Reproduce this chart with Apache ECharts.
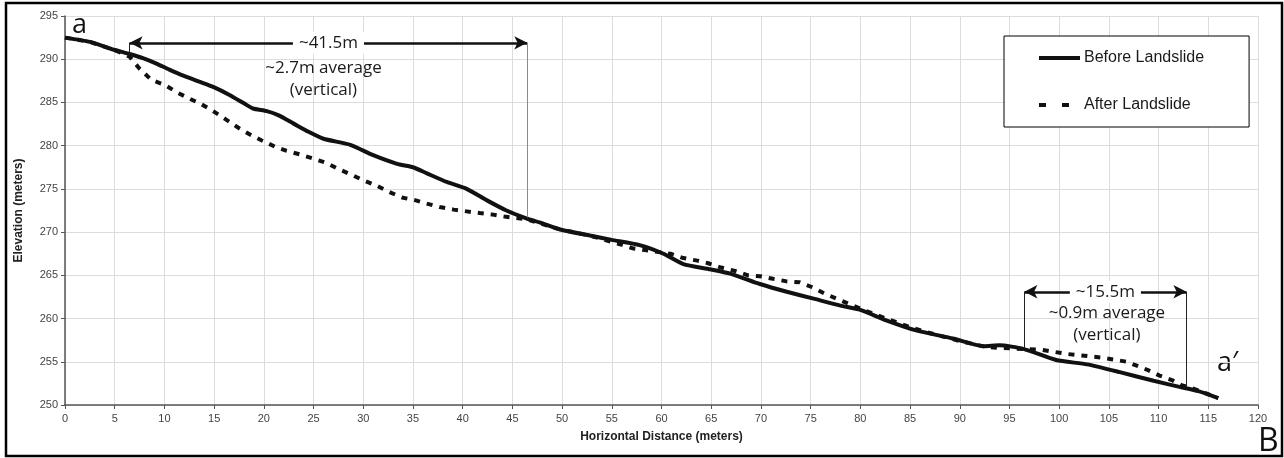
<!DOCTYPE html>
<html>
<head>
<meta charset="utf-8">
<title>Landslide profile a - a'</title>
<script src="https://cdn.jsdelivr.net/npm/echarts@6/dist/echarts.min.js"></script>
<style>
    html, body { margin: 0; padding: 0; background: #fff; }
    #chart { width: 1284px; height: 458px; }
</style>
</head>
<body>
<div id="chart"></div>
<script>
// profile before the slide (horizontal distance, elevation)
const beforeDist = [0, 2.5, 4.9, 6.5, 7.9, 9.2, 10.5, 11.9, 13.5, 14.9, 16.5, 18.0, 18.9, 20.3, 21.5, 23.0, 24.5, 26.0,
    28.7, 31.0, 33.4, 35.0, 36.4, 38.4, 40.4, 42.4, 44.4, 46.4, 47.8, 49.8, 52.8, 55.0, 57.8, 60.2, 62.2, 64.9, 66.9,
    69.9, 72.6, 75.3, 78.0, 80.0, 82.6, 85.7, 89.3, 92.4, 94.0, 96.4, 99.7, 102.8, 106.1, 109.5, 112.1, 114.0, 116.0];
const beforeElev = [292.5, 292.0, 291.1, 290.6, 290.1, 289.5, 288.8, 288.1, 287.4, 286.8, 285.9, 284.9, 284.3, 284.0, 283.5, 282.55, 281.6, 280.8,
    280.1, 278.9, 277.9, 277.5, 276.8, 275.8, 275.0, 273.7, 272.5, 271.6, 271.1, 270.3, 269.6, 269.1, 268.5, 267.5, 266.3, 265.7, 265.2,
    264.0, 263.1, 262.3, 261.5, 261.0, 259.8, 258.6, 257.7, 256.8, 256.9, 256.5, 255.2, 254.7, 253.8, 252.8, 252.1, 251.6, 250.8];

// profile after the slide
const afterDist = [0, 2.5, 4.9, 6.5, 7.5, 8.7, 10.1, 11.2, 12.6, 13.7, 14.9, 16.1, 17.4, 18.6, 19.8, 21.1, 22.3, 23.6, 25.0,
    26.3, 27.5, 28.8, 30.0, 31.3, 32.5, 33.9, 35.2, 36.4, 37.7, 39.1, 40.4, 41.7, 42.9, 44.2, 46.4, 47.8, 49.8, 52.8,
    55.8, 57.2, 58.5, 60.9, 62.2, 63.6, 64.7, 66.0, 67.4, 68.7, 69.9, 71.2, 72.6, 73.9, 75.1, 76.4, 77.6, 80.3, 82.6,
    85.0, 87.7, 90.0, 92.7, 94.2, 98.1, 100.8, 104.2, 106.8, 108.8, 110.1, 111.4, 112.3, 114.0, 116.0];
const afterElev = [292.5, 292.0, 291.1, 290.3, 288.9, 287.6, 287.0, 286.2, 285.4, 284.8, 284.0, 283.1, 282.1, 281.3, 280.6, 279.9, 279.4, 279.0, 278.5,
    278.0, 277.3, 276.65, 276.0, 275.4, 274.7, 274.0, 273.7, 273.3, 272.9, 272.6, 272.4, 272.2, 272.05, 271.8, 271.5, 271.0, 270.3, 269.6,
    268.6, 268.1, 267.9, 267.5, 267.0, 266.7, 266.4, 265.9, 265.5, 265.0, 264.9, 264.6, 264.3, 264.2, 263.65, 262.9, 262.3, 261.0, 260.0,
    259.0, 258.1, 257.4, 256.7, 256.6, 256.4, 255.9, 255.5, 255.0, 254.1, 253.4, 252.85, 252.3, 251.7, 250.8];

// annotation spans: [start, end, arrow elevation, elev at start, elev at end]
const upperSpan = [6.5, 46.5, 291.9, 290.5, 271.7];
const lowerSpan = [96.5, 112.8, 263.1, 256.6, 252.1];

const seriesNames = ['Before Landslide', 'After Landslide'];

const annoFont = '"Open Sans", "Noto Sans", sans-serif';
const axisFont = '"Liberation Sans", Arial, sans-serif';

const zip = (xs, ys) => xs.map((x, i) => [x, ys[i]]);

// double arrow + the two drop lines
function spanLines(span, endColor) {
    const [x0, x1, yArrow, y0, y1] = span;
    return [
        [{ coord: [x0, yArrow], symbol: 'arrow', symbolSize: [10, 13] },
         { coord: [x1, yArrow], symbol: 'arrow', symbolSize: [10, 13] }],
        [{ coord: [x0, yArrow], symbol: 'none', lineStyle: { width: 1, color: '#222' } },
         { coord: [x0, y0], symbol: 'none' }],
        [{ coord: [x1, yArrow], symbol: 'none', lineStyle: { width: 1, color: endColor } },
         { coord: [x1, y1], symbol: 'none' }]
    ];
}

function spanTitle(span, text) {
    return {
        coord: [(span[0] + span[1]) / 2, span[2]],
        label: { formatter: text, backgroundColor: '#fff', padding: [1, 6], lineHeight: 20 }
    };
}

const chart = echarts.init(document.getElementById('chart'));

chart.setOption({
    animation: false,
    grid: { left: 65, right: 26, top: 16, bottom: 53 },
    legend: {
        left: 1004,
        top: 36,
        orient: 'vertical',
        backgroundColor: '#fff',
        borderColor: '#000',
        borderWidth: 1,
        borderRadius: 0,
        padding: [14, 45, 14, 33],
        itemWidth: 41,
        itemHeight: 14,
        itemGap: 31,
        textStyle: { fontSize: 16, color: '#1a1a1a', fontFamily: axisFont, padding: [0, 0, 0, -1] },
        data: [
            { name: seriesNames[0], itemStyle: { opacity: 0 }, lineStyle: { width: 4, color: '#111' } },
            { name: seriesNames[1], itemStyle: { opacity: 0 }, lineStyle: { width: 4, color: '#111', type: [7, 16] } }
        ]
    },
    xAxis: {
        type: 'value',
        min: 0, max: 120, interval: 5,
        name: 'Horizontal Distance (meters)',
        nameLocation: 'middle',
        nameGap: 26,
        nameTextStyle: { fontSize: 12, fontWeight: 'bold', color: '#222', fontFamily: axisFont },
        axisLine: { lineStyle: { color: '#555', width: 1.5 } },
        axisTick: { show: true, length: 4, lineStyle: { color: '#555' } },
        axisLabel: { fontSize: 11, color: '#444', margin: 8, fontFamily: axisFont },
        splitLine: { show: true, lineStyle: { color: '#dcdcdc', width: 1 } }
    },
    yAxis: {
        type: 'value',
        min: 250, max: 295, interval: 5,
        name: 'Elevation (meters)',
        nameLocation: 'middle',
        nameGap: 40,
        nameTextStyle: { fontSize: 12, fontWeight: 'bold', color: '#222', fontFamily: axisFont },
        axisLine: { show: true, lineStyle: { color: '#555', width: 1.5 } },
        axisTick: { show: true, length: 4, lineStyle: { color: '#555' } },
        axisLabel: { fontSize: 11, color: '#444', margin: 7, fontFamily: axisFont },
        splitLine: { show: true, lineStyle: { color: '#dcdcdc', width: 1 } }
    },
    series: [
        {
            name: seriesNames[1],
            type: 'line',
            data: zip(afterDist, afterElev),
            showSymbol: false,
            symbol: 'none',
            itemStyle: { color: '#111' },
            lineStyle: { color: '#111', width: 4, type: [6, 7] },
            z: 3
        },
        {
            name: seriesNames[0],
            type: 'line',
            data: zip(beforeDist, beforeElev),
            showSymbol: false,
            symbol: 'none',
            smooth: 0.2,
            itemStyle: { color: '#111' },
            lineStyle: { color: '#111', width: 4 },
            z: 4,
            markLine: {
                silent: true,
                symbol: 'none',
                label: { show: false },
                lineStyle: { color: '#111', width: 2.5, type: 'solid' },
                data: spanLines(upperSpan, '#8a8a8a').concat(spanLines(lowerSpan, '#222'))
            },
            markPoint: {
                silent: true,
                symbol: 'circle',
                symbolSize: 0,
                label: {
                    show: true, color: '#1a1a1a', fontSize: 17, lineHeight: 22, fontFamily: annoFont
                },
                data: [
                    spanTitle(upperSpan, '~41.5m'),
                    spanTitle(lowerSpan, '~15.5m'),
                    { coord: [26.0, 287.7], label: { formatter: '~2.7m average\n(vertical)' } },
                    { coord: [104.8, 259.35], label: { formatter: '~0.9m average\n(vertical)' } }
                ]
            }
        }
    ],
    graphic: [
        { type: 'rect', shape: { x: 6, y: 3, width: 1276, height: 453 },
          style: { fill: 'none', stroke: '#000', lineWidth: 2.5 }, silent: true },
        { type: 'text', x: 72, y: 12, style: { text: 'a', font: '27px ' + annoFont, fill: '#111' } },
        { type: 'text', x: 1217, y: 350, style: { text: 'a\u2032', font: '27px ' + annoFont, fill: '#111' } },
        { type: 'text', x: 1258, y: 426, style: { text: 'B', font: '32px ' + annoFont, fill: '#111' } }
    ]
});

window.addEventListener('resize', () => chart.resize());
</script>
</body>
</html>
